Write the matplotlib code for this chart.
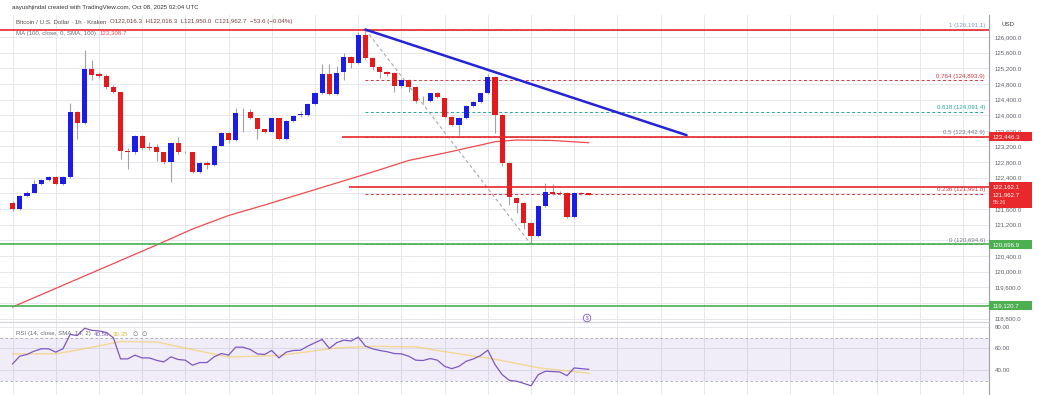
import matplotlib

matplotlib.use("Agg")

import matplotlib.pyplot as plt
from matplotlib.patches import Rectangle
from matplotlib.ticker import FuncFormatter

plt.rcParams["font.family"] = ["Liberation Sans", "DejaVu Sans"]

UP = "#1c1ce8"
DOWN = "#e3191c"
WICK = "#a3a3a3"
GRID = "#e6e8ed"
RED = "#e8282b"
GREEN = "#4caf50"
TREND = "#2424d6"
PURPLE = "#7e57c2"
SMA_YELLOW = "#f5c542"
AXIS_TXT = "#5d606b"
FS = 4.4

# hourly BTC/USD candles (Kraken)
opens = [121762, 121601, 121934, 122018, 122240, 122343, 122427, 122233, 122427, 124090,
         123793, 125174, 125054, 125003, 124729, 124586, 123084, 123051, 123476, 123179,
         123179, 123051, 122795, 123281, 123051, 123051, 122555, 122785, 122726, 123220,
         123537, 123366, 124074, 124090, 123921, 123639, 123578, 123921, 123391, 123852,
         124005, 124005, 124279, 124560, 125046, 124535, 125097, 125481, 125343, 126051,
         125455, 125225, 125097, 125072, 124755, 124900, 124729, 124389, 124371, 124560,
         124432, 123962, 123749, 123936, 124235, 124345, 124560, 124985, 124005, 122785,
         121890, 121762, 121235, 120911, 121686, 122044, 122003, 122003, 121404, 122003,
         122016.3]
highs = [121800, 121960, 122060, 122343, 122380, 122440, 122450, 122450, 124320, 124110,
         125668, 125412, 125100, 125050, 124780, 124600, 123150, 123500, 123500, 123320,
         123260, 123070, 123300, 123450, 123090, 123070, 122800, 122830, 123240, 123560,
         123560, 124192, 124190, 124170, 123940, 123660, 123940, 123940, 123880, 124010,
         124100, 124300, 124600, 125300, 125300, 125250, 125600, 125520, 126136, 126191.1,
         125480, 125250, 125120, 125100, 124930, 124920, 124750, 124500, 124580, 124600,
         124450, 123980, 123960, 124260, 124370, 124580, 125050, 125010, 124030, 122800,
         121920, 121780, 121260, 121710, 122258, 122250, 122060, 122030, 122030, 122040,
         122016.3]
lows = [121560, 121580, 121910, 122000, 122220, 122320, 122210, 122210, 122400, 123391,
        123770, 124900, 124950, 124670, 124560, 122880, 122624, 123000, 123100, 123120,
        122836, 122760, 122299, 123020, 123030, 122530, 122530, 122620, 122700, 123200,
        123280, 123340, 123578, 123900, 123391, 123550, 123560, 123370, 123370, 123830,
        123960, 123980, 124260, 124540, 124510, 124510, 124900, 125200, 125320, 125430,
        125150, 124950, 125000, 124600, 124700, 124600, 124300, 124300, 124340, 124430,
        123940, 123720, 123494, 123910, 124210, 124320, 124540, 123540, 122700, 121700,
        121500, 121100, 120694.6, 120880, 121660, 121960, 121970, 121380, 121380, 121960,
        121950]
closes = [121601, 121934, 122018, 122240, 122343, 122412, 122233, 122427, 124090, 123793,
          125174, 125036, 125003, 124729, 124586, 123084, 123051, 123476, 123153, 123153,
          123051, 122795, 123281, 123051, 123060, 122555, 122785, 122726, 123220, 123537,
          123366, 124064, 124080, 123921, 123639, 123578, 123921, 123391, 123852, 123987,
          124015, 124279, 124576, 125046, 124535, 125087, 125481, 125343, 126051, 125455,
          125225, 125097, 125046, 124755, 124900, 124729, 124371, 124380, 124560, 124458,
          123962, 123749, 123936, 124235, 124345, 124560, 124985, 124005, 122785, 121916,
          121762, 121235, 120911, 121686, 122044, 121985, 121995, 121404, 122003, 121990,
          121962.7]

# MA(100) read at a few candles
ma_idx = [0, 5, 10, 15, 20, 25, 30, 35, 40, 45, 50, 55, 60, 65, 67, 70, 75, 80]
ma_val = [119095, 119491, 119888, 120284, 120680, 121090, 121435, 121703, 121985, 122266,
          122547, 122842, 123033, 123238, 123322, 123366, 123353, 123297]

rsi = [45.6, 52.8, 54.4, 57.5, 59.7, 59.7, 56.6, 59.7, 73.1, 72.0,
       78.8, 76.9, 76.3, 75.0, 70.0, 50.3, 50.3, 53.8, 51.2, 51.2,
       49.0, 47.5, 52.2, 49.7, 49.1, 44.4, 46.9, 46.9, 52.2, 55.3,
       53.8, 61.2, 61.2, 59.1, 55.0, 54.4, 58.1, 51.2, 56.6, 58.1,
       58.4, 62.2, 65.3, 68.4, 60.0, 65.3, 67.8, 66.9, 70.6, 62.2,
       59.7, 58.1, 57.0, 55.3, 55.0, 52.8, 49.1, 48.8, 50.6, 49.1,
       43.4, 41.2, 43.4, 48.1, 50.3, 53.4, 58.4, 45.0, 35.6, 30.3,
       29.5, 27.5, 25.3, 35.6, 38.8, 38.5, 38.1, 34.7, 41.9, 41.2,
       40.6]
rsi_sma_idx = [0, 6, 11, 15, 20, 25, 30, 37, 45, 50, 56, 61, 67, 73, 80]
rsi_sma_val = [55, 55, 61, 66.5, 66, 59, 52, 53.5, 60.5, 62, 61.5, 56, 50, 42, 37]

# drawings
fib_low, fib_high = 120694.6, 126191.1
fib_start = 49
fib_levels = [1, 0.764, 0.618, 0.5, 0.236, 0]
fib_colors = ["#7f9cc4", "#d9363b", "#26a69a", "#787b86", "#d9363b", "#787b86"]
trend_x = [49, 93.6]
trend_y = [126191.1, 123490]
swing_x = [49, 72]
swing_y = [126191.1, 120694.6]
red_levels = [126191.1, 123446.3, 122162.1]
red_starts = [None, 45.7, 46.7]
green_levels = [120696.9, 119120.7]
last_price = 121962.7

W, H = 1039, 395
fig = plt.figure(figsize=(W / 100, H / 100), dpi=100, facecolor="white")
ax = fig.add_axes([0, 73 / H, 989 / W, 307 / H])
rax = fig.add_axes([0, 0, 989 / W, 72 / H], sharex=ax)

XMIN, XMAX = -1.74, 135.6
YMIN, YMAX = 118711, 126563
ppx = (YMAX - YMIN) / 307.0  # price units per pixel

x = list(range(len(opens)))
bottoms = [min(o, c) for o, c in zip(opens, closes)]
heights = [max(abs(c - o), 14) for o, c in zip(opens, closes)]
colors = [UP if c >= o else DOWN for o, c in zip(opens, closes)]
ax.vlines(x, lows, highs, color=WICK, lw=0.8, zorder=3)
ax.bar(x, heights, bottom=bottoms, width=0.72, color=colors, zorder=4)

ax.plot(ma_idx, ma_val, color="#ef4b4e", lw=0.9, zorder=2)

for lvl, col in zip(fib_levels, fib_colors):
    price = fib_low + lvl * (fib_high - fib_low)
    ax.hlines(price, fib_start, XMAX - 0.5, color=col, lw=0.7, ls=(0, (3, 2.5)), zorder=2)
    ax.text(0.996, price + 1.5 * ppx, f"{lvl:g} ({price:,.1f})", transform=ax.get_yaxis_transform(),
            ha="right", va="bottom", fontsize=FS, color=col, zorder=6)

for lvl, start in zip(red_levels, red_starts):
    ax.hlines(lvl, XMIN if start is None else start, XMAX, color=RED, lw=1.2, zorder=5)
for lvl in green_levels:
    ax.axhline(lvl, color=GREEN, lw=1.2, zorder=5)

ax.plot(swing_x, swing_y, color="#a8a8a8", lw=0.8, ls=(0, (3, 2.5)), zorder=2)
ax.plot(trend_x, trend_y, color=TREND, lw=1.8, zorder=6, solid_capstyle="round")

# price tags on the axis: (price, colour, px above, px below)
tags = [(123446.3, RED, 4.5, 4.5), (122162.1, RED, 5, 4.5),
        (120696.9, GREEN, 4.5, 4.5), (119120.7, GREEN, 4.5, 4.5)]
tag_prices = [t[0] for t in tags] + [last_price]


def price_fmt(v, _):
    # the axis tags sit on top of these tick labels in the screenshot
    if any(abs(v - p) < 6 * ppx for p in tag_prices):
        return ""
    return f"{v:,.1f}"


ax.set_xlim(XMIN, XMAX)
ax.set_ylim(YMIN, YMAX)
ax.set_xticks(range(0, 136, 6))
ax.set_yticks(range(118800, 126001, 400))
ax.yaxis.set_major_formatter(FuncFormatter(price_fmt))
ax.yaxis.tick_right()
ax.tick_params(axis="y", length=0, pad=4, labelsize=FS, labelcolor=AXIS_TXT)
ax.tick_params(axis="x", length=0, labelbottom=False)
ax.grid(color=GRID, lw=0.7)
ax.set_axisbelow(True)
ax.spines[["top", "left"]].set_visible(False)
ax.spines["right"].set_color("#9ea1a9")
ax.spines["bottom"].set_color("#d0d2d8")

for price, col, up, down in tags:
    ax.add_patch(Rectangle((1.0, price - down * ppx), 43 / 989, (up + down) * ppx, transform=ax.get_yaxis_transform(),
                           facecolor=col, edgecolor="none", clip_on=False, zorder=10))
    ax.text(1.0 + 4 / 989, price, f"{price:,.1f}", transform=ax.get_yaxis_transform(), ha="left", va="center",
            fontsize=FS, color="white", clip_on=False, zorder=11)
ax.add_patch(Rectangle((1.0, last_price - 13 * ppx), 43 / 989, 17.5 * ppx, transform=ax.get_yaxis_transform(),
                       facecolor=RED, edgecolor="none", clip_on=False, zorder=12))
ax.text(1.0 + 4 / 989, last_price, f"{last_price:,.1f}", transform=ax.get_yaxis_transform(), ha="left",
        va="center", fontsize=FS, color="white", clip_on=False, zorder=13)
ax.text(1.0 + 4 / 989, last_price - 8 * ppx, "55:26", transform=ax.get_yaxis_transform(), ha="left",
        va="center", fontsize=FS - 0.6, color="#ffd6d6", clip_on=False, zorder=13)

# RSI pane
rax.axhspan(30, 70, color=PURPLE, alpha=0.1, lw=0)
for lvl in (70, 30):
    rax.axhline(lvl, color="#a4a7b0", lw=0.6, ls=(0, (3, 3)))
rax.plot(rsi_sma_idx, rsi_sma_val, color=SMA_YELLOW, lw=1.0, alpha=0.55)
rax.plot(x, rsi, color=PURPLE, lw=0.9)
rax.set_ylim(16.7, 83.7)
rax.set_yticks([40, 60, 80])
rax.yaxis.set_major_formatter(FuncFormatter(lambda v, _: f"{v:.2f}"))
rax.yaxis.tick_right()
rax.tick_params(axis="y", length=0, pad=4, labelsize=FS, labelcolor=AXIS_TXT)
rax.tick_params(axis="x", length=0, labelbottom=False)
rax.grid(color=GRID, lw=0.7)
rax.set_axisbelow(True)
rax.spines[["top", "left", "bottom"]].set_visible(False)
rax.spines["right"].set_color("#9ea1a9")


def chain(anchor_ax, x0, y0, pieces, transform):
    t = anchor_ax.text(x0, y0, pieces[0][0], color=pieces[0][1], fontsize=FS, va="center",
                       transform=transform, zorder=20)
    for s, c in pieces[1:]:
        t = anchor_ax.annotate(s, xy=(1, 0.5), xycoords=t, xytext=(2.5, 0), textcoords="offset points",
                               va="center", fontsize=FS, color=c, zorder=20, annotation_clip=False)
    return t


chain(rax, 16 / 989, (395 - 334) / 72, [("RSI (14, close, SMA, 14, 2)", "#6a6d78"), ("40.56", PURPLE),
                                       ("39.35", "#e0b43a"), ("\u2205", "#6a6d78"), ("\u2205", "#6a6d78")],
      rax.transAxes)

fig.text(12 / W, 1 - 7 / H, "aayushjindal created with TradingView.com, Oct 08, 2025 02:04 UTC",
         fontsize=FS, color="#333333", va="center")
chain(ax, 16 / W, 1 - 22 / H, [("Bitcoin / U.S. Dollar \u00b7 1h \u00b7 Kraken", "#5a4a4a"),
                              ("O122,016.3  H122,016.3  L121,950.0  C121,962.7  \u221253.6 (\u22120.04%)", "#7a3c3c")],
      fig.transFigure)
chain(ax, 16 / W, 1 - 33 / H, [("MA (100, close, 0, SMA, 100)", "#6a6d78"), ("123,308.7", "#ef4b4e")],
      fig.transFigure)
fig.text(1001 / W, 1 - 24 / H, "USD", fontsize=FS, color="#333333", va="center")
fig.text(587 / W, 1 - 318 / H, "$", fontsize=3.6, color=PURPLE, ha="center", va="center",
         bbox=dict(boxstyle="circle,pad=0.25", fc="white", ec=PURPLE, lw=0.6))

fig.savefig("out.png", dpi=100, facecolor="white")
